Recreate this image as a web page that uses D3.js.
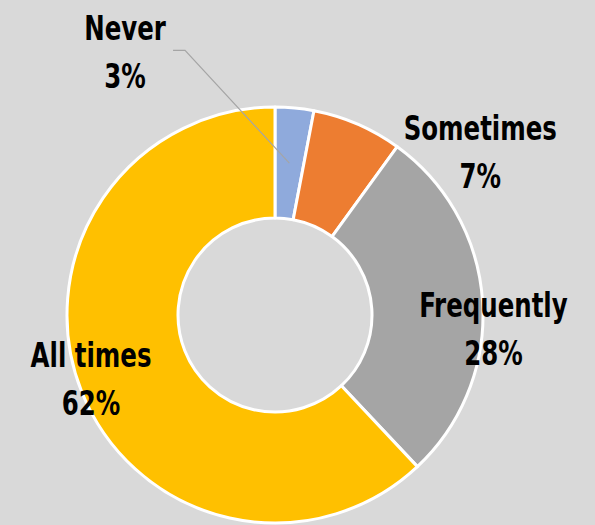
<!DOCTYPE html>
<meta charset="utf-8">
<body style="margin:0;background:#d9d9d9">
<script src="https://d3js.org/d3.v7.min.js"></script>
<script>
var width = 595,
    height = 525;

// data
var categories = ["Never", "Sometimes", "Frequently", "All times"];
var values = [3, 7, 28, 62];
var colors = ["#8faadc", "#ed7d31", "#a5a5a5", "#ffc000"];

// label placement: angle (deg clockwise from top) and radius from centre
var labelPlace = [[-30.9, 292], [53.6, 255], [96.9, 220], [247.6, 199]];

var cx = 275, cy = 315, outerR = 208, innerR = 97;

var svg = d3.select("body").append("svg")
    .attr("width", width)
    .attr("height", height)
    .style("display", "block");

svg.append("rect").attr("width", width).attr("height", height).attr("fill", "#d9d9d9");

var g = svg.append("g").attr("transform", "translate(" + cx + "," + cy + ")");

var pie = d3.pie().sort(null).value(function(d) { return d; });
var arcs = pie(values);

var arc = d3.arc().innerRadius(innerR).outerRadius(outerR);

g.selectAll("path.slice")
  .data(arcs)
  .enter().append("path")
  .attr("class", "slice")
  .attr("d", arc)
  .attr("fill", function(d, i) { return colors[i]; })
  .attr("stroke", "#fff")
  .attr("stroke-width", 3)
  .attr("stroke-linejoin", "round");

function polar(deg, r) {
  var a = deg * Math.PI / 180;
  return [r * Math.sin(a), -r * Math.cos(a)];
}

// leader line for the small "Never" slice
var c0 = arc.centroid(arcs[0]);
var lp = polar(labelPlace[0][0], labelPlace[0][1]);
g.append("polyline")
  .attr("points", [[lp[0] + 48, lp[1] - 14], [lp[0] + 60, lp[1] - 14], c0].map(function(p) { return p.join(","); }).join(" "))
  .attr("fill", "none")
  .attr("stroke", "#a5a5a5")
  .attr("stroke-width", 1.2);

var labels = g.selectAll("text.lbl")
  .data(arcs)
  .enter().append("text")
  .attr("class", "lbl")
  .attr("text-anchor", "middle")
  .style("font-family", "'DejaVu Sans Condensed', 'DejaVu Sans', sans-serif")
  .style("font-stretch", "condensed")
  .style("font-weight", "bold")
  .style("font-size", "34px")
  .attr("fill", "#000")
  .attr("transform", function(d, i) {
    var p = polar(labelPlace[i][0], labelPlace[i][1]);
    return "translate(" + p[0] + "," + p[1] + ") scale(0.8,1)";
  });

labels.append("tspan")
  .attr("x", 0).attr("y", -24)
  .text(function(d, i) { return categories[i]; });
labels.append("tspan")
  .attr("x", 0).attr("y", 24)
  .text(function(d, i) { return values[i] + "%"; });
</script>
</body>
</html>
